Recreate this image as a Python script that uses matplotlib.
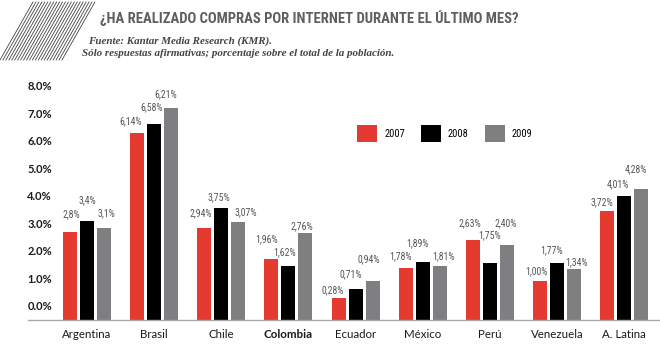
import matplotlib
matplotlib.use('Agg')
import matplotlib.pyplot as plt
from matplotlib.patches import Patch
from matplotlib.lines import Line2D
from matplotlib import font_manager
import numpy as np

countries = ['Argentina', 'Brasil', 'Chile', 'Colombia', 'Ecuador', 'México', 'Perú', 'Venezuela', 'A. Latina']
years = ['2007', '2008', '2009']

# bar heights as drawn (read against the y axis)
v2007 = [2.69, 6.30, 2.85, 1.71, 0.28, 1.39, 2.39, 0.91, 3.44]
v2008 = [3.08, 6.62, 3.57, 1.45, 0.62, 1.61, 1.55, 1.55, 4.00]
v2009 = [2.85, 7.21, 3.07, 2.64, 0.91, 1.45, 2.21, 1.35, 4.25]

# printed labels (they don't always match the bars in the original)
l2007 = ['2,8%', '6,14%', '2,94%', '1,96%', '0,28%', '1,78%', '2,63%', '1,00%', '3,72%']
l2008 = ['3,4%', '6,58%', '3,75%', '1,62%', '0,71%', '1,89%', '1,75%', '1,77%', '4,01%']
l2009 = ['3,1%', '6,21%', '3,07%', '2,76%', '0,94%', '1,81%', '2,40%', '1,34%', '4,28%']

yticks = [0, 1, 2, 3, 4, 5, 6, 7, 8]

# label nudges in pixels (dx, dy) from the top of each bar
nudge = [
    [(1, 18), (-7, 12), (-4, 14), (-5, 20), (-6, 8), (-5, 12), (-3, 17), (-4, 10), (-5, 9)],
    [(0, 21), (-3, 17), (-2, 11), (-4, 14), (-5, 15), (-5, 19), (0, 28), (-5, 13), (-6, 12)],
    [(2, 14), (-5, 14), (8, 9), (-4, 7), (-4, 22), (4, 10), (-1, 22), (3, 7), (-5, 20)],
]

colors = ['#e53a2f', '#000000', '#7f7f82']


def pick_narrow():
    fl = font_manager.fontManager.ttflist
    for want in ['Liberation Sans Narrow', 'Roboto Condensed', 'Open Sans Condensed']:
        if any(f.name == want for f in fl):
            return {'family': want}
    if any(f.name == 'DejaVu Sans' and 'condensed' in str(f.stretch) for f in fl):
        return {'family': 'DejaVu Sans', 'stretch': 'condensed'}
    return {'family': 'Roboto'}


narrow = pick_narrow()
names = {f.name for f in font_manager.fontManager.ttflist}
axfont = 'Lato' if 'Lato' in names else 'DejaVu Sans'

fig = plt.figure(figsize=(6.6, 3.46), dpi=100)
ax = fig.add_axes([28 / 660, 26 / 346, 632 / 660, 240 / 346])

base = -0.51
x = np.arange(len(countries))
off = 0.2532
w = 0.2086

for j, (vals, labs) in enumerate(zip([v2007, v2008, v2009], [l2007, l2008, l2009])):
    xs = x + (j - 1) * off
    vals = np.array(vals)
    ax.bar(xs, vals - base, bottom=base, width=w, color=colors[j], label=years[j], zorder=2)
    for i in range(len(countries)):
        dx, dy = nudge[j][i]
        ax.annotate(labs[i], (xs[i], vals[i]), xytext=(dx, dy), textcoords='offset pixels',
                    ha='center', va='center', fontsize=7, color='#555555', **narrow)

ax.set_xlim(-0.879, 8.536)
ax.set_ylim(base, 8.218)

ax.set_yticks(yticks)
ax.set_yticklabels([f'{t:.1f}%' for t in yticks], family=axfont, fontsize=8, fontweight='bold', color='#1a1a1a')
ax.tick_params(axis='y', length=0, pad=-17.3)
for t in ax.get_yticklabels():
    t.set_horizontalalignment('right')

ax.set_xticks(x)
ax.set_xticklabels(countries, family=axfont, fontsize=8.3, color='#1a1a1a')
ax.get_xticklabels()[3].set_fontweight('bold')
ax.tick_params(axis='x', length=0, pad=6.5)

for s in ['left', 'right', 'top']:
    ax.spines[s].set_visible(False)
ax.spines['bottom'].set_color('#aaaaaa')
ax.spines['bottom'].set_linewidth(1.0)

handles = [Patch(facecolor=c, edgecolor='none') for c in colors]
lp = dict(narrow)
lp['size'] = 7.5
ax.legend(handles, years, loc='center left', bbox_to_anchor=(357 / 660, 1 - 133.5 / 346),
          bbox_transform=fig.transFigure, ncol=3, frameon=False, borderpad=0, borderaxespad=0,
          handlelength=1.9, handleheight=2.0, handletextpad=0.7, columnspacing=1.55,
          prop=lp)

# title block
title = fig.text(100 / 660, 1 - 18 / 346, '¿HA REALIZADO COMPRAS POR INTERNET DURANTE EL ÚLTIMO MES?',
                 fontweight='bold', fontsize=12.5, color='#5e5e60', va='center', ha='left', **narrow)
fig.canvas.draw()
tw = title.get_window_extent().width
title.set_fontsize(12.5 * 418 / tw)

fig.text(88 / 660, 1 - 41 / 346, 'Fuente: Kantar Media Research (KMR).', family='Liberation Serif',
         style='italic', fontweight='bold', fontsize=7.9, color='#444444', va='center')
fig.text(82 / 660, 1 - 54 / 346, 'Sólo respuestas afirmativas; porcentaje sobre el total de la población.',
         family='Liberation Serif', style='italic', fontweight='bold', fontsize=7.9, color='#444444', va='center')

# hatched corner decoration
for k in range(22):
    x0 = k * 2.95
    fig.add_artist(Line2D([x0 / 660, (x0 + 33) / 660], [1 - 60 / 346, 1 - 2 / 346],
                          transform=fig.transFigure, color='#444444', linewidth=0.6))

fig.savefig('out.png', dpi=100)
